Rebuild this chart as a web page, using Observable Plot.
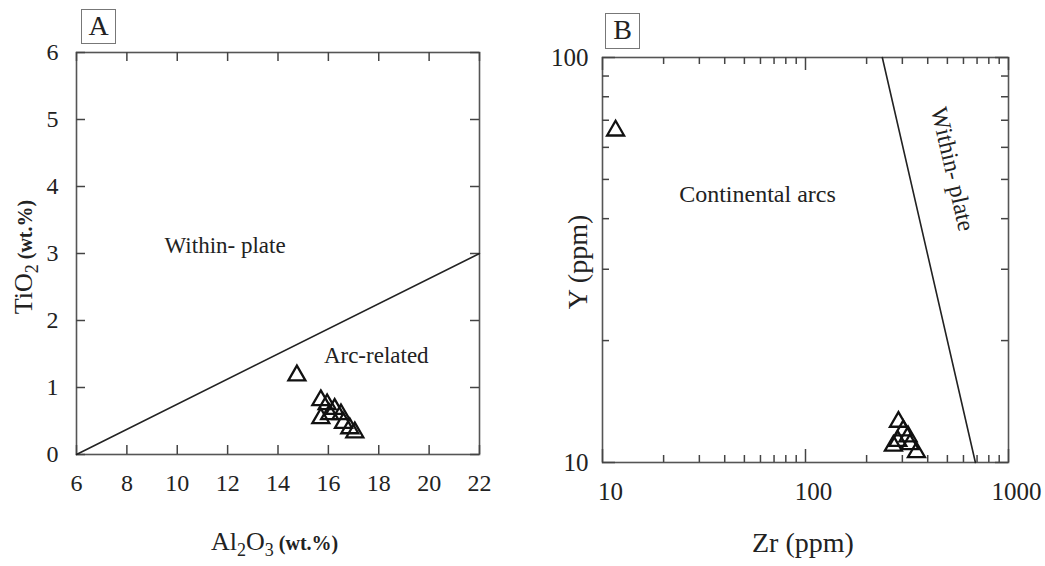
<!DOCTYPE html>
<html><head><meta charset="utf-8">
<script src="https://cdn.jsdelivr.net/npm/d3@7"></script>
<script src="https://cdn.jsdelivr.net/npm/@observablehq/plot@0.6"></script>
<style>
body{margin:0;background:#fff;width:1045px;height:566px;position:relative;overflow:hidden;font-family:"Liberation Serif",serif;color:#222}
.pan{position:absolute;top:0}
.box{position:absolute;border:1.2px solid #777;font-size:28px;line-height:32px;text-align:center;background:#fff}
.lab{position:absolute;white-space:nowrap;font-size:26px;color:#222}
.lab b{font-size:20px}
.rot{position:absolute;width:200px;height:34px;line-height:34px;text-align:center;white-space:nowrap;transform:rotate(-90deg);transform-origin:center;color:#222}
.rot b{font-size:20px}
</style></head><body>
<div id="a" class="pan" style="left:0"></div>
<div id="b" class="pan" style="left:520px"></div>
<div class="box" style="left:81px;top:9px;width:33px;height:33px">A</div>
<div class="box" style="left:605px;top:13px;width:33px;height:34px">B</div>
<div class="lab" style="left:211px;top:527px">Al<sub style="font-size:18px">2</sub>O<sub style="font-size:18px">3</sub><b> (wt.%)</b></div>
<div class="rot" style="left:-76px;top:240px;font-size:26px">TiO<sub style="font-size:18px">2</sub><b> (wt.%)</b></div>
<div class="lab" style="left:752px;top:527px;font-size:28px">Zr (ppm)</div>
<div class="rot" style="left:478px;top:245px;font-size:28px">Y (ppm)</div>
<script>
// Panel A data
const al2o3 = [14.75, 15.7, 15.95, 16.25, 16.5, 15.7, 16.05, 16.6, 16.85, 17.05];
const tio2  = [1.18, 0.81, 0.75, 0.68, 0.6, 0.54, 0.6, 0.47, 0.39, 0.33];
const lineAx = [6, 22];
const lineAy = [0, 3];
const labelsA = ["Within- plate", "Arc-related"];
const labelsAx = [11.9, 17.9];
const labelsAy = [3.12, 1.48];
const ticksAx = [6, 8, 10, 12, 14, 16, 18, 20, 22];
const ticksAy = [0, 1, 2, 3, 4, 5, 6];

// Panel B data
const zr = [11.6, 287, 303, 320, 285, 271, 327, 352];
const yv = [66, 12.6, 12.0, 11.6, 11.3, 11.0, 11.1, 10.6];
const lineBzr = [239, 687];
const lineBy = [100, 10];
const labelsB = ["Continental arcs", "Within- plate"];
const labelsBx = [58, 530];
const labelsBy = [46, 53];
const labelsBrot = [0, 77];
const majorBx = [10, 100, 1000];
const minorBx = [20,30,40,50,60,70,80,90,200,300,400,500,600,700,800,900];
const majorBy = [10, 100];
const minorBy = [20,30,40,50,60,70,80,90];

const ink = "#222";
const frameCol = "#555";
const tickCol = "#444";
const style = {fontFamily: "Liberation Serif, serif", fontSize: "24px", color: ink, background: "white", overflow: "visible"};
const fmt = d => String(d);

// inward ticks on all four frame edges, drawn as full-span ticks with large insets
function inTicksX(ticks, size, frameH) {
  return [
    Plot.tickX(ticks, {x: d => d, insetTop: frameH - size, stroke: tickCol, strokeWidth: 1.5}),
    Plot.tickX(ticks, {x: d => d, insetBottom: frameH - size, stroke: tickCol, strokeWidth: 1.5})
  ];
}
function inTicksY(ticks, size, frameW) {
  return [
    Plot.tickY(ticks, {y: d => d, insetRight: frameW - size, stroke: tickCol, strokeWidth: 1.5}),
    Plot.tickY(ticks, {y: d => d, insetLeft: frameW - size, stroke: tickCol, strokeWidth: 1.5})
  ];
}

const ptsA = al2o3.map((v, i) => ({x: v, y: tio2[i]}));
const lnA = lineAx.map((v, i) => ({x: v, y: lineAy[i]}));
const labA = labelsA.map((t, i) => ({t, x: labelsAx[i], y: labelsAy[i]}));

const A = {w: 520, h: 566, l: 76, r: 41, t: 52, b: 112};
const plotA = Plot.plot({
  width: A.w, height: A.h,
  marginLeft: A.l, marginRight: A.r, marginTop: A.t, marginBottom: A.b,
  style,
  x: {domain: [6, 22]},
  y: {domain: [0, 6]},
  marks: [
    Plot.frame({stroke: frameCol, strokeWidth: 1.6}),
    Plot.axisX({anchor: "bottom", ticks: ticksAx, tickFormat: fmt, tickSize: 0, tickPadding: 19, label: null, fill: ink}),
    Plot.axisY({anchor: "left", ticks: ticksAy, tickFormat: fmt, tickSize: 0, tickPadding: 18, label: null, fill: ink}),
    ...inTicksX(ticksAx, 9, A.h - A.t - A.b),
    ...inTicksY(ticksAy, 9, A.w - A.l - A.r),
    Plot.line(lnA, {x: "x", y: "y", stroke: ink, strokeWidth: 1.6}),
    Plot.text(labA, {x: "x", y: "y", text: "t", fontSize: 23, fill: ink}),
    Plot.dot(ptsA, {x: "x", y: "y", symbol: "triangle", r: 6.3, stroke: "#111", strokeWidth: 2.3, fill: "none"})
  ]
});
document.getElementById("a").appendChild(plotA);

const ptsB = zr.map((v, i) => ({x: v, y: yv[i]}));
const lnB = lineBzr.map((v, i) => ({x: v, y: lineBy[i]}));
const labB = labelsB.map((t, i) => ({t, x: labelsBx[i], y: labelsBy[i], r: labelsBrot[i]}));

const B = {w: 525, h: 566, l: 82, r: 37, t: 57, b: 104};
const fhB = B.h - B.t - B.b, fwB = B.w - B.l - B.r;
const plotB = Plot.plot({
  width: B.w, height: B.h,
  marginLeft: B.l, marginRight: B.r, marginTop: B.t, marginBottom: B.b,
  style,
  x: {type: "log", domain: [10, 1000]},
  y: {type: "log", domain: [10, 100]},
  marks: [
    Plot.frame({stroke: frameCol, strokeWidth: 1.6}),
    Plot.axisX({anchor: "bottom", ticks: majorBx, tickFormat: fmt, tickSize: 0, tickPadding: 20, label: null, fill: ink, fontSize: 25, dx: 8}),
    Plot.axisY({anchor: "left", ticks: majorBy, tickFormat: fmt, tickSize: 0, tickPadding: 14, label: null, fill: ink, fontSize: 25}),
    ...inTicksX(majorBx, 13, fhB),
    ...inTicksX(minorBx, 7, fhB),
    ...inTicksY(majorBy, 13, fwB),
    ...inTicksY(minorBy, 7, fwB),
    Plot.line(lnB, {x: "x", y: "y", stroke: ink, strokeWidth: 1.6}),
    Plot.text(labB, {x: "x", y: "y", text: "t", rotate: "r", fontSize: 24, fill: ink}),
    Plot.dot(ptsB, {x: "x", y: "y", symbol: "triangle", r: 6.3, stroke: "#111", strokeWidth: 2.3, fill: "none"})
  ]
});
document.getElementById("b").appendChild(plotB);
</script>
</body></html>
